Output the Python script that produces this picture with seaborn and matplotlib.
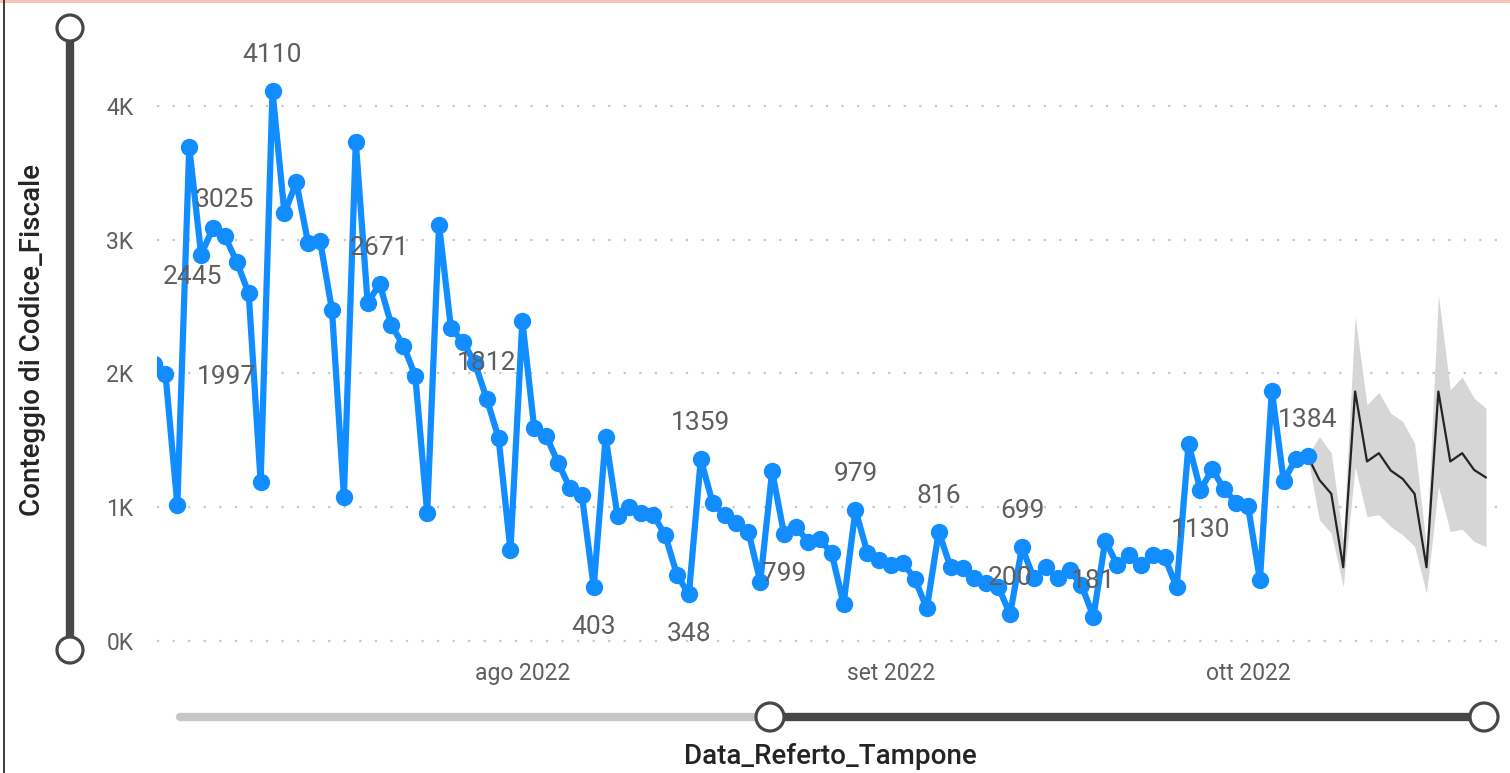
import matplotlib
matplotlib.use("Agg")
import matplotlib.pyplot as plt
from matplotlib.patches import Circle, Rectangle
import seaborn as sns
import pandas as pd

# =========================
# DATA
# =========================
start_date = "2022-07-01"
counts = [2072, 1997, 1019, 3692, 2889, 3089, 3025, 2834, 2598, 1191,
          4110, 3199, 3429, 2972, 2992, 2474, 1080, 3729, 2524, 2671,
          2360, 2208, 1983, 956, 3111, 2338, 2238, 2080, 1812, 1518,
          679, 2391, 1590, 1532, 1334, 1142, 1092, 403, 1524, 935,
          1005, 960, 943, 793, 494, 348, 1359, 1030, 943, 880,
          818, 444, 1267, 799, 855, 743, 760, 656, 277, 979,
          661, 606, 569, 586, 461, 244, 816, 550, 543, 468,
          431, 406, 200, 699, 468, 550, 473, 530, 418, 181,
          750, 568, 643, 568, 643, 625, 401, 1472, 1130, 1283,
          1133, 1034, 1009, 456, 1870, 1196, 1360, 1384]

forecast_start = "2022-10-06"
forecast = [1384, 1204, 1100, 551, 1865, 1342, 1404, 1274, 1212, 1100,
            551, 1865, 1342, 1404, 1279, 1222]
upper = [1384, 1529, 1404, 750, 2426, 1766, 1858, 1703, 1641, 1479,
         700, 2589, 1878, 1973, 1815, 1741]
lower = [1384, 905, 805, 406, 1304, 930, 943, 855, 793, 706,
         357, 1155, 818, 835, 743, 706]

# data labels: point index, shown text
label_idx = [1, 4, 6, 10, 19, 28, 37, 45, 46, 53, 59, 66, 72, 73, 79, 88, 97]
label_txt = ["1997", "2445", "3025", "4110", "2671", "1812", "403", "348", "1359",
             "799", "979", "816", "200", "699", "181", "1130", "1384"]

y_ticks = [0, 1000, 2000, 3000, 4000]
y_ticklabels = ["0K", "1K", "2K", "3K", "4K"]
x_ticks = ["2022-08-01", "2022-09-01", "2022-10-01"]
x_ticklabels = ["ago 2022", "set 2022", "ott 2022"]

dates = pd.date_range(start_date, periods=len(counts), freq="D")
fc_dates = pd.date_range(forecast_start, periods=len(forecast), freq="D")

# =========================
# STYLE
# =========================
sns.set_theme(style="white")
plt.rcParams["font.family"] = ["Roboto", "DejaVu Sans"]

BLUE = "#118DFF"
GREY_TXT = "#605E5C"
DARK_TXT = "#252423"
SLIDER = "#474747"

W, H = 1510, 773
fig = plt.figure(figsize=(W / 100, H / 100), dpi=100)

# overlay for frame and sliders (pixel coords)
deco = fig.add_axes([0, 0, 1, 1], zorder=0)
deco.set_xlim(0, W)
deco.set_ylim(H, 0)
deco.axis("off")
deco.add_patch(Rectangle((0, 0), W, 3, color="#F6C4B3", lw=0))
deco.plot([4, 4], [0, H], color="#3a3a3a", lw=1.4)

# vertical slider
deco.plot([70, 70], [28, 650], color=SLIDER, lw=6, solid_capstyle="butt")
for cy in [28, 650]:
    deco.add_patch(Circle((70, cy), 13, facecolor="white", edgecolor=SLIDER, lw=2.3, zorder=3))

# horizontal slider
deco.plot([180, 770], [717, 717], color="#C8C6C4", lw=6, solid_capstyle="round")
deco.plot([770, 1484], [717, 717], color=SLIDER, lw=6, solid_capstyle="butt")
for cx in [770, 1484]:
    deco.add_patch(Circle((cx, 717), 14, facecolor="white", edgecolor=SLIDER, lw=2.3, zorder=3))

fig.text(830 / W, 1 - 757 / H, "Data_Referto_Tampone", ha="center", va="center",
         fontsize=20, color=DARK_TXT, fontweight="medium")
fig.text(33 / W, 1 - 340 / H, "Conteggio di Codice_Fiscale", ha="center", va="center",
         rotation=90, fontsize=20, color=DARK_TXT, fontweight="medium")

# =========================
# MAIN CHART
# =========================
left_px, right_px, top_px, bottom_px = 157, 1505, 15, 655
ax = fig.add_axes([left_px / W, 1 - bottom_px / H,
                   (right_px - left_px) / W, (bottom_px - top_px) / H], zorder=1)
ax.set_facecolor("none")

ax.fill_between(fc_dates, lower, upper, color="#D6D6D6", lw=0, zorder=1)
sns.lineplot(x=fc_dates, y=forecast, ax=ax, color="#252423", lw=1.6, zorder=2)
sns.lineplot(x=dates, y=counts, ax=ax, color=BLUE, lw=4.5, marker="o",
             markersize=12.5, markeredgewidth=0, zorder=3)
for line in ax.lines:
    line.set_solid_joinstyle("round")

for i, txt in zip(label_idx, label_txt):
    dx, dy = 0, 36
    if txt in ("403", "348", "799", "1130"):
        dy = -40
    if txt == "1997":
        dx, dy = 61, -3
    if txt == "2445":
        dx, dy = -9, -22
    ax.annotate(txt, xy=(dates[i], counts[i]), xytext=(dx, dy), textcoords="offset pixels",
                ha="center", va="center", fontsize=19, color=GREY_TXT, zorder=4)

day = pd.Timedelta(days=1)
ax.set_xlim(dates[0] + 0.29 * day, dates[0] + 113.6 * day)
ax.set_ylim(-105, 4680)

ax.set_yticks(y_ticks)
ax.set_yticklabels(y_ticklabels)
ax.set_xticks(pd.to_datetime(x_ticks))
ax.set_xticklabels(x_ticklabels)
ax.tick_params(axis="y", length=0, pad=17, labelsize=16.5, labelcolor=GREY_TXT)
ax.tick_params(axis="x", length=0, pad=5, labelsize=16.5, labelcolor=GREY_TXT)
ax.set_xlabel("")
ax.set_ylabel("")

ax.yaxis.grid(True, color="#C8C8C8", linestyle=(0, (1, 6)), lw=1.6)
ax.xaxis.grid(False)
for s in ax.spines.values():
    s.set_visible(False)

fig.savefig("out.png", dpi=100)
